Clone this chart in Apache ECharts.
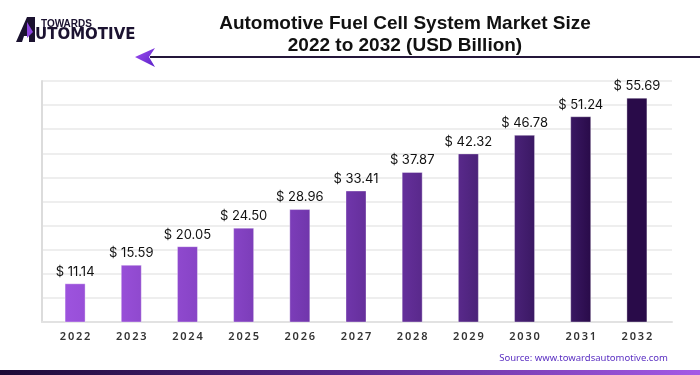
<!DOCTYPE html>
<html>
<head>
<meta charset="utf-8">
<title>Automotive Fuel Cell System Market Size</title>
<script src="https://cdn.jsdelivr.net/npm/echarts@6/dist/echarts.min.js"></script>
<style>
  html, body { margin: 0; padding: 0; background: #fff; }
  #chart { width: 700px; height: 375px; }
</style>
</head>
<body>
<div id="chart"></div>
<script>
// chart data
var years = ['2022', '2023', '2024', '2025', '2026', '2027', '2028', '2029', '2030', '2031', '2032'];
var marketSize = [11.14, 15.59, 20.05, 24.50, 28.96, 33.41, 37.87, 42.32, 46.78, 51.24, 55.69];
var barColors = ['#9d53de', '#984fd8', '#8f49ce', '#8744c6', '#7c3db9', '#7036ab', '#652f9b', '#59298b', '#4a2278', '#3a1863', '#290b49'];

var myChart = echarts.init(document.getElementById('chart'));

var seriesData = marketSize.map(function (v, i) {
	return {
		value: v,
		itemStyle: {
			color: new echarts.graphic.LinearGradient(0, 0, 1, 0, [
				{ offset: 0, color: barColors[i] },
				{ offset: 1, color: barColors[Math.min(i + 1, barColors.length - 1)] }
			]),
			borderColor: 'rgba(255,255,255,0.35)',
			borderWidth: 1
		}
	};
});

var option = {
	backgroundColor: '#ffffff',
	animation: false,
	title: {
		text: 'Automotive Fuel Cell System Market Size\n2022 to 2032 (USD Billion)',
		left: 400,
		top: 8,
		textAlign: 'center',
		textStyle: {
			fontFamily: 'Liberation Sans',
			fontWeight: 'bold',
			fontSize: 19,
			lineHeight: 22,
			color: '#111'
		}
	},
	grid: [
		// gridlines only
		{ left: 42, right: 28, top: 81, bottom: 53 },
		// bars
		{ left: 47, right: 35, top: 81, bottom: 53 }
	],
	xAxis: [
		{
			type: 'category', gridIndex: 0, data: [''],
			axisLine: { show: true, lineStyle: { color: '#e2e2e2', width: 2 } },
			axisTick: { show: false }, axisLabel: { show: false }
		},
		{
			type: 'category', gridIndex: 1, data: years,
			axisLine: { show: false }, axisTick: { show: false },
			axisLabel: {
				margin: 9,
				fontFamily: 'Noto Sans',
				fontWeight: 600,
				fontSize: 11,
				color: '#333',
				formatter: function (v) { return v.split('').join('\u2009'); }
			}
		}
	],
	yAxis: [
		{
			type: 'value', gridIndex: 0, min: 0, max: 10, interval: 1,
			axisLine: { show: true, lineStyle: { color: '#dcdcdc', width: 2 } },
			axisTick: { show: false }, axisLabel: { show: false },
			splitLine: { show: true, lineStyle: { color: '#e8e8e8', width: 1.5 } }
		},
		{
			type: 'value', gridIndex: 1, min: 1.85, max: 59.7,
			show: false, splitLine: { show: false }
		}
	],
	series: [
		{
			type: 'bar',
			xAxisIndex: 1,
			yAxisIndex: 1,
			barWidth: 21,
			data: seriesData,
			label: {
				show: true,
				position: 'top',
				distance: 5,
				fontFamily: 'Inter',
				fontSize: 13,
				color: '#111',
				formatter: function (p) { return '$ ' + p.value.toFixed(2); }
			}
		}
	],
	graphic: [
		// logo mark
		{ type: 'polygon', shape: { points: [[16, 42], [27, 17], [35, 17], [35, 42], [29, 42], [29, 36], [24, 36], [22, 42]] }, style: { fill: '#1b1230' } },
		{ type: 'polygon', shape: { points: [[27, 22], [33, 32], [27, 38]] }, style: { fill: '#8e44e0' } },
		{ type: 'text', left: 41, top: 19, style: { text: 'TOWARDS', fontFamily: 'Liberation Sans', fontWeight: 'bold', fontSize: 10, fill: '#1b1230' } },
		{ type: 'text', left: 35, top: 28, style: { text: 'UTOMOTIVE', fontFamily: 'DejaVu Sans', fontWeight: 'bold', fontSize: 15, fill: '#1b1230' } },
		// arrow line under the title
		{ type: 'line', shape: { x1: 150, y1: 57, x2: 700, y2: 57 }, style: { stroke: '#24163a', lineWidth: 2 } },
		{
			type: 'polygon',
			shape: { points: [[135, 57], [155, 48], [149, 57], [155, 67]] },
			style: {
				fill: new echarts.graphic.LinearGradient(0, 0, 1, 1, [
					{ offset: 0, color: '#a04ef0' },
					{ offset: 1, color: '#5a22c8' }
				])
			}
		},
		// source
		{ type: 'text', right: 32, top: 353, style: { text: 'Source: www.towardsautomotive.com', fontFamily: 'Noto Sans', fontSize: 9.5, fill: '#5a2fc2' } },
		// bottom strip
		{
			type: 'rect', shape: { x: 0, y: 370, width: 700, height: 5 },
			style: {
				fill: new echarts.graphic.LinearGradient(0, 0, 1, 0, [
					{ offset: 0, color: '#1c0a36' },
					{ offset: 0.5, color: '#5a2a8e' },
					{ offset: 1, color: '#a45ae6' }
				])
			}
		}
	]
};

myChart.setOption(option);
</script>
</body>
</html>
